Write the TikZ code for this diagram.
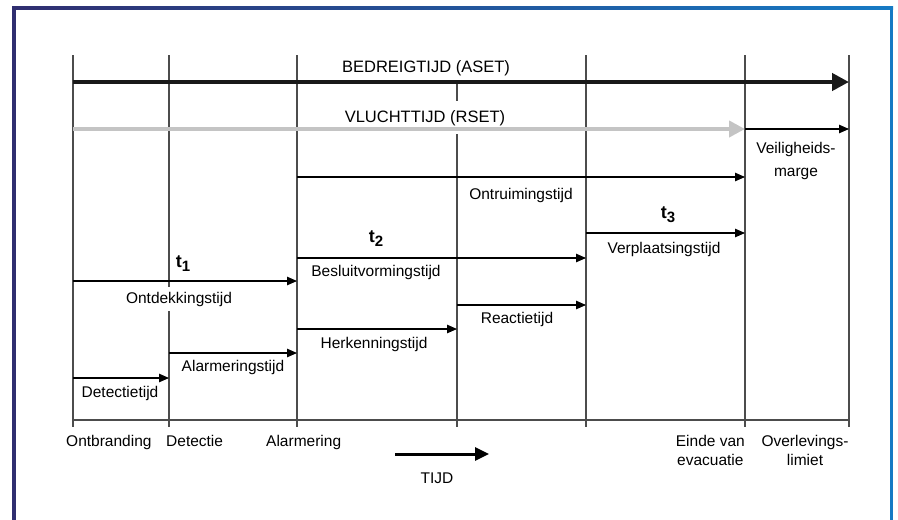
\documentclass[tikz,border=0pt]{standalone}
\usepackage{fontspec}
\setmainfont{Liberation Sans}
\usetikzlibrary{arrows.meta, positioning}
\definecolor{kadernavy}{RGB}{48,46,112}
\definecolor{kaderblauw}{RGB}{22,122,196}
\definecolor{rsetgrijs}{RGB}{196,196,196}
\colorlet{kolomgrijs}{black!70}
\newcommand{\tindex}[1]{t\raisebox{-4pt}{\fontsize{15}{15}\selectfont\bfseries #1}}

\begin{document}
\begin{tikzpicture}[x=1pt, y=-1pt,
    kolom/.style={draw=kolomgrijs, line width=1.1pt},
    duur/.style={draw=black, line width=1.1pt, -{Triangle[length=10pt, width=8.5pt]}},
    aset/.style={draw=black!90, line width=4.5pt, -{Triangle[length=17pt, width=17pt]}},
    rset/.style={draw=rsetgrijs, line width=4pt, -{Triangle[length=16pt, width=16pt]}},
    tijdpijl/.style={draw=black, line width=3pt, -{Triangle[length=14pt, width=13pt]}},
    lbl/.style={font=\fontsize{15.5}{19}\selectfont, inner sep=1pt},
    kop/.style={font=\fontsize{16.5}{20}\selectfont, inner sep=1pt},
    tlbl/.style={font=\fontsize{18}{22}\selectfont\bfseries, inner sep=1pt}]
    \useasboundingbox (0,0) rectangle (898,520);

    % kader
    \shade[left color=kadernavy, right color=kaderblauw] (12,6) rectangle (893,9.5);
    \fill[kadernavy] (12,6) rectangle (15.5,520);
    \fill[kaderblauw] (890,6) rectangle (893,520);

    % tijdstippen
    \foreach \naam/\x in {ontbr/73, detec/169, alarm/297, verpl/586, einde/745, overl/849} {
      \coordinate (\naam) at (\x,55);
      \coordinate (\naam-b) at (\x,427);
      \draw[kolom] (\naam) -- (\naam-b);
    }
    \coordinate (react) at (457,82);
    \coordinate (react-b) at (457,427);
    \draw[kolom] (react) -- (react-b);

    % niveaus
    \coordinate (r-aset) at (0,82);
    \coordinate (r-rset) at (0,129);
    \coordinate (r-ontr) at (0,177);
    \coordinate (r-verp) at (0,233);
    \coordinate (r-besl) at (0,258);
    \coordinate (r-ontd) at (0,281);
    \coordinate (r-reac) at (0,305);
    \coordinate (r-herk) at (0,329);
    \coordinate (r-alrm) at (0,353);
    \coordinate (r-dete) at (0,378);
    \coordinate (r-basis) at (0,420);

    \node[kop, anchor=base] (bedreig) at (426,72) {BEDREIGTIJD (ASET)};
    \node[kop, anchor=base, fill=white, inner ysep=9pt] (vlucht) at (425,122) {VLUCHTTIJD (RSET)};
    \node[lbl, anchor=north, align=center] (marge) at (796,141) {Veiligheids-\\[4pt]marge};
    \node[lbl, anchor=base] (ontruiming) at (521,199) {Ontruimingstijd};
    \node[tlbl, anchor=base] (t3) at (668,218) {\tindex{3}};
    \node[lbl, anchor=base] (verplaatsing) at (664,253) {Verplaatsingstijd};
    \node[tlbl, anchor=base] (t2) at (376,242) {\tindex{2}};
    \node[lbl, anchor=base] (besluit) at (376,276) {Besluitvormingstijd};
    \node[tlbl, anchor=base] (t1) at (183,267) {\tindex{1}};
    \node[lbl, anchor=base, fill=white, inner ysep=5pt] (ontdekking) at (179,303) {Ontdekkingstijd};
    \node[lbl, anchor=base] (reactie) at (517,323) {Reactietijd};
    \node[lbl, anchor=base] (herkenning) at (374,348) {Herkenningstijd};
    \node[lbl, anchor=base] (alarmering) at (233,371) {Alarmeringstijd};
    \node[lbl, anchor=base] (detectie) at (120,397) {Detectietijd};

    % pijlen
    \draw[aset] (ontbr |- r-aset) -- (overl |- r-aset);
    \draw[rset] (ontbr |- r-rset) -- (einde |- r-rset);
    \draw[duur] (einde |- r-rset) -- (overl |- r-rset);
    \draw[duur] (alarm |- r-ontr) -- (einde |- r-ontr);
    \draw[duur] (verpl |- r-verp) -- (einde |- r-verp);
    \draw[duur] (alarm |- r-besl) -- (verpl |- r-besl);
    \draw[duur] (ontbr |- r-ontd) -- (alarm |- r-ontd);
    \draw[duur] (react |- r-reac) -- (verpl |- r-reac);
    \draw[duur] (alarm |- r-herk) -- (react |- r-herk);
    \draw[duur] (detec |- r-alrm) -- (alarm |- r-alrm);
    \draw[duur] (ontbr |- r-dete) -- (detec |- r-dete);
    \draw[kolom] (ontbr |- r-basis) -- (overl |- r-basis);

    % as
    \node[lbl, anchor=base west] (ontbranding) at (65,446) {Ontbranding};
    \node[lbl, anchor=base west] (detectiemoment) at (165,446) {Detectie};
    \node[lbl, anchor=base west] (alarmmoment) at (265,446) {Alarmering};
    \node[lbl, anchor=north east, align=center] (einde-evac) at (746,434) {Einde van\\evacuatie};
    \node[lbl, anchor=north, align=center] (overleving) at (805,434) {Overlevings-\\limiet};
    \coordinate (tijd-s) at (395,454);
    \coordinate (tijd-e) at (489,454);
    \draw[tijdpijl] (tijd-s) -- (tijd-e);
    \node[lbl, anchor=base] (tijd) at (437,483) {TIJD};
\end{tikzpicture}
\end{document}
